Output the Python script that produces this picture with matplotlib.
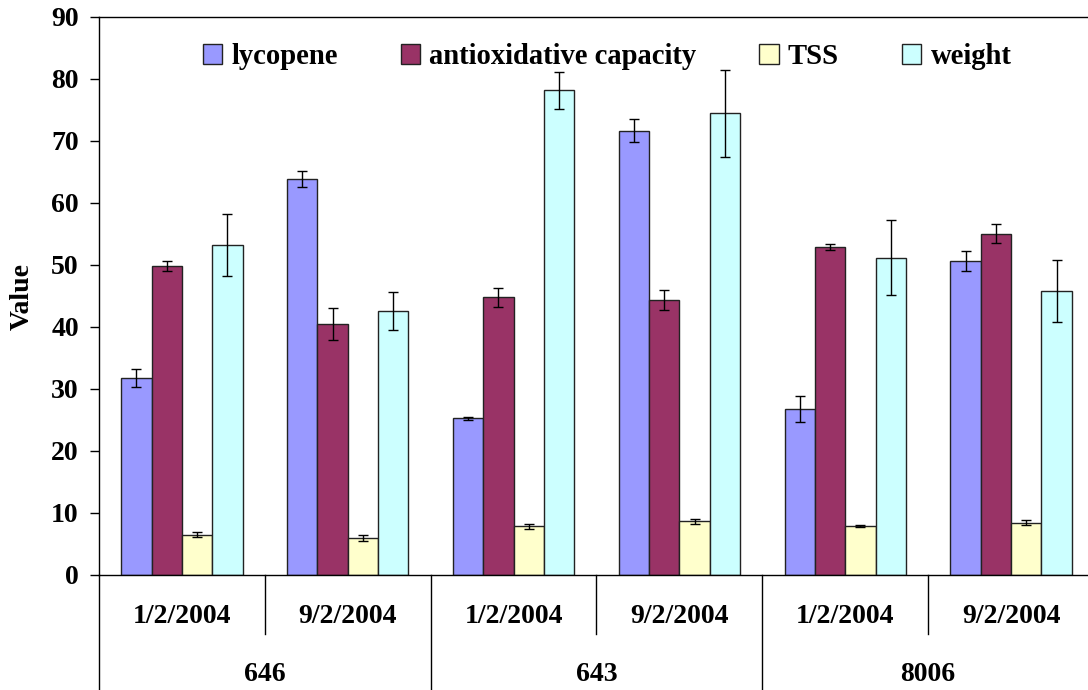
import numpy as np
import matplotlib
matplotlib.use('Agg')
import matplotlib.pyplot as plt
import matplotlib.transforms as mtransforms

# category levels
dates = ['1/2/2004', '9/2/2004', '1/2/2004', '9/2/2004', '1/2/2004', '9/2/2004']
varieties = ['646', '643', '8006']

series_names = ['lycopene', 'antioxidative capacity', 'TSS', 'weight']
series_colors = ['#9999FF', '#993366', '#FFFFCC', '#CCFFFF']

lycopene = [31.7, 63.8, 25.2, 71.6, 26.7, 50.5]
lycopene_err = [1.4, 1.25, 0.2, 1.85, 2.1, 1.6]
antiox = [49.8, 40.4, 44.7, 44.3, 52.8, 55.0]
antiox_err = [0.8, 2.6, 1.5, 1.6, 0.5, 1.5]
tss = [6.45, 5.87, 7.75, 8.55, 7.8, 8.35]
tss_err = [0.35, 0.45, 0.4, 0.45, 0.2, 0.4]
weight = [53.1, 42.5, 78.1, 74.4, 51.1, 45.8]
weight_err = [5.0, 3.0, 2.95, 7.0, 6.0, 5.0]

values = [lycopene, antiox, tss, weight]
errors = [lycopene_err, antiox_err, tss_err, weight_err]

plt.rcParams['font.family'] = ['Liberation Serif', 'DejaVu Serif']
plt.rcParams['font.weight'] = 'bold'
fs = 20

fig = plt.figure(figsize=(10.88, 6.9), dpi=100)
ax = fig.add_axes([99 / 1088, 1 - 574.5 / 690, 995 / 1088, 558 / 690])

x = np.arange(len(dates))
bw = 0.183
for i, (vals, errs) in enumerate(zip(values, errors)):
    offs = (i - 1.5) * bw
    ax.bar(x + offs, vals, bw, color=series_colors[i], edgecolor='#222222',
           linewidth=1.0, label=series_names[i], zorder=2)
    ax.errorbar(x + offs, vals, yerr=errs, fmt='none', ecolor='black',
                elinewidth=1.0, capsize=3.3, capthick=1.0, zorder=3)

ax.set_xlim(-0.5, len(dates) - 0.5)
ax.set_ylim(0, 90)
ax.set_yticks(np.arange(0, 91, 10))
ax.tick_params(axis='y', direction='out', length=6.5, width=1, pad=8, labelsize=fs)
ax.set_xticks([])
for lbl in ax.get_yticklabels():
    lbl.set_fontweight('bold')

ax.spines['right'].set_visible(False)
for s in ['top', 'left', 'bottom']:
    ax.spines[s].set_linewidth(1.0)
    ax.spines[s].set_color('black')

# y axis title
fig.text(22 / 1088, 1 - 296 / 690, 'Value', rotation=90, ha='center', va='center',
         fontsize=fs, fontweight='bold')

# multi-level category axis
trans = mtransforms.blended_transform_factory(ax.transData, ax.transAxes)
low = -0.1075
bottom = -115.5 / 558
for k in range(len(dates) + 1):
    xb = k - 0.5
    y_end = bottom if k % 2 == 0 else low
    ax.plot([xb, xb], [0, y_end], color='black', lw=1.0, transform=trans, clip_on=False)
for k, d in enumerate(dates):
    ax.text(k, -0.076, d, transform=trans, ha='center', va='center', fontsize=fs, fontweight='bold')
for j, v in enumerate(varieties):
    ax.text(2 * j + 0.5, -0.18, v, transform=trans, ha='center', va='center', fontsize=fs, fontweight='bold')

ax.legend(loc='center', bbox_to_anchor=(0.5106, 0.928), ncol=4, frameon=False,
          handlelength=0.68, handleheight=0.68, handletextpad=0.32,
          columnspacing=2.2, prop={'weight': 'bold', 'size': 20.6})

fig.savefig('out.png', dpi=100)
